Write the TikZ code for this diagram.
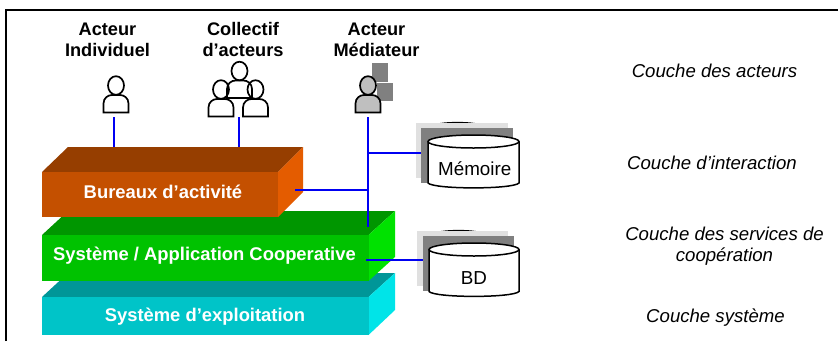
\documentclass[tikz,border=0pt]{standalone}
\usepackage{fontspec}
\setmainfont{Liberation Sans}
\definecolor{osf}{RGB}{0,196,200}\definecolor{ost}{RGB}{0,150,152}\definecolor{oss}{RGB}{0,228,232}
\definecolor{syf}{RGB}{0,194,0}\definecolor{syt}{RGB}{0,150,0}\definecolor{sys}{RGB}{0,226,0}
\definecolor{buf}{RGB}{196,80,0}\definecolor{but}{RGB}{150,62,0}\definecolor{bus}{RGB}{228,92,0}
\tikzset{
  x=1pt,y=-1pt,
  link/.style={draw=blue!95!black,line width=1.4pt},
  lab/.style={font=\fontsize{18.2}{21}\selectfont\bfseries,align=center,text=black,inner sep=0},
  boxlab/.style={font=\fontsize{18.4}{21}\selectfont\bfseries,align=center,text=white,inner sep=0},
  layer/.style={font=\fontsize{18.6}{21}\selectfont\itshape,align=center,inner sep=0},
  dblab/.style={font=\fontsize{18.8}{21}\selectfont,inner sep=0},
  person/.style={line width=1.7pt,draw=black},
}
\newcommand{\persona}[3]{% x y fill ; (x,y) = bottom centre
  \begin{scope}[shift={(#1,#2)}]
    \draw[person,fill=#3] (-12.5,0) -- (-12.5,-9) .. controls (-12.5,-14.5) and (-8,-17.5) .. (-4,-17.5) -- (4,-17.5) .. controls (8,-17.5) and (12.5,-14.5) .. (12.5,-9) -- (12.5,0) -- cycle;
    \draw[person,fill=#3] (0,-27) ellipse[x radius=8,y radius=9.3];
  \end{scope}}
\newcommand{\cylinder}[5]{% x0 x1 ytop ybot rim
  \draw[line width=1.5pt,fill=white] (#1,#3) -- (#1,#4) .. controls (#1+6,#4+6.5) and (#2-6,#4+6.5) .. (#2,#4) -- (#2,#3);
  \draw[line width=1.5pt,fill=white] ({(#1+#2)/2},#3) ellipse[x radius={(#2-#1)/2},y radius=#5];
}
\begin{document}
\begin{tikzpicture}
\useasboundingbox (0,0) rectangle (838,341);
\fill[white] (0,0) rectangle (838,341);
\draw[line width=1.8pt] (6,341) -- (6,10) -- (838,10);

% actor labels
\node[lab] (a1) at (107.5,39.5) {Acteur\\Individuel};
\node[lab] (a2) at (243,39.5) {Collectif\\d’acteurs};
\node[lab] (a3) at (376.5,39.5) {Acteur\\Médiateur};

% persons
\persona{239.5}{98}{none}
\persona{221}{116.5}{none}
\persona{255.5}{116.5}{none}
\persona{116}{112.5}{white}
\fill[black!50] (372,63) rectangle (388,82);
\fill[black!50] (377,83) rectangle (393,101);
\persona{368}{112.5}{black!25}

% layers
\fill[ost] (42,297) -- (68,273) -- (395,273) -- (368.5,297) -- cycle;
\fill[oss] (368.5,297) -- (395,273) -- (395,310) -- (368.5,335) -- cycle;
\fill[osf] (42,297) rectangle (368.5,335);
\fill[syt] (42,235) -- (68,211) -- (395,211) -- (368.5,235) -- cycle;
\fill[sys] (368.5,235) -- (395,211) -- (395,257) -- (368.5,281) -- cycle;
\fill[syf] (42,235) rectangle (368.5,281);
\fill[but] (42,172) -- (68,147) -- (303,147) -- (278,172) -- cycle;
\fill[bus] (278,172) -- (303,147) -- (303,192) -- (278,217) -- cycle;
\fill[buf] (42,172) rectangle (278,217);

\node[boxlab] (b1) at (163,191.5) {Bureaux d’activité};
\node[boxlab] (b2) at (204.5,256) {Système / Application Cooperative};
\node[boxlab] (b3) at (205,317) {Système d’exploitation};

% cylinders
\fill[black] (440,123) .. controls (450,121.5) and (465,121.5) .. (475,123) -- cycle;
\fill[black!12] (416,123) rectangle (508,178);
\fill[black!50] (421,128) rectangle (513,183);
\cylinder{428}{519}{141.5}{183}{6.5}
\node[dblab] (m) at (474.7,169) {Mémoire};
\fill[black] (441,231) .. controls (451,229.5) and (466,229.5) .. (476,231) -- cycle;
\fill[black!12] (417,231) rectangle (508,286);
\fill[black!50] (423,236) rectangle (514,291);
\cylinder{429}{519}{249.5}{291.5}{6.5}
\node[dblab] (bd) at (474,278) {BD};

% connector ends
\coordinate (p1) at (114,117);
\coordinate (t1) at (114,147);
\coordinate (p2) at (239,117);
\coordinate (t2) at (239,147);
\coordinate (p3) at (368,117);
\coordinate (t3) at (368,227);
\coordinate (j1) at (368,153);
\coordinate (e1) at (421,153);
\coordinate (j2) at (368,190);
\coordinate (e2) at (295,190);
\coordinate (s1) at (366,260);
\coordinate (e3) at (423,260);
\draw[link] (p1) -- (t1);
\draw[link] (p2) -- (t2);
\draw[link] (p3) -- (t3);
\draw[link] (j1) -- (e1);
\draw[link] (e2) -- (j2);
\draw[link] (s1) -- (e3);

% layer captions
\node[layer] (c1) at (714.5,71) {Couche des acteurs};
\node[layer] (c2) at (712,163) {Couche d’interaction};
\node[layer] (c3) at (724.5,246.5) {Couche des services de\\coopération};
\node[layer] (c4) at (715.5,318) {Couche système};
\end{tikzpicture}
\end{document}
